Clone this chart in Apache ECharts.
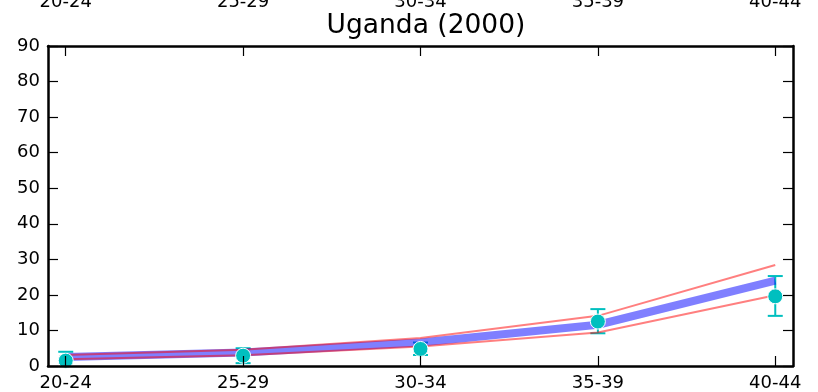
<!DOCTYPE html>
<html>
<head>
<meta charset="utf-8">
<script src="https://cdn.jsdelivr.net/npm/echarts@6/dist/echarts.min.js"></script>
<style>
html,body{margin:0;padding:0;background:#fff;}
#chart{width:818px;height:392px;}
</style>
</head>
<body>
<div id="chart"></div>
<script>
// ---- data ----
var categories = ['20-24', '25-29', '30-34', '35-39', '40-44'];
var modelMean  = [2.5, 3.8, 6.6, 11.6, 24.0];
var modelUpper = [3.1, 4.6, 7.9, 14.1, 28.4];
var modelLower = [1.9, 3.0, 5.5, 9.4, 19.9];
var observed   = [1.5, 2.9, 4.8, 12.5, 19.6];
var obsLow     = [-1.0, 0.8, 3.1, 9.2, 14.1];
var obsHigh    = [4.0, 5.0, 6.6, 16.0, 25.3];
var yTicks     = [0, 10, 20, 30, 40, 50, 60, 70, 80, 90];
var titleText  = 'Uganda (2000)';

function pairs(arr) { return arr.map(function (v, i) { return [i, v]; }); }
var catIdx = categories.map(function (c, i) { return i; });

var FONT = 'DejaVu Sans';
var chart = echarts.init(document.getElementById('chart'), null, {renderer: 'canvas'});

var xCommon = {
  type: 'value', min: -0.1, max: 4.1, z: 10,
  splitLine: {show: false},
  axisLine: {show: true, onZero: false, lineStyle: {color: '#000', width: 2.5}},
  axisTick: {show: true, inside: true, length: 10, customValues: catIdx, lineStyle: {color: '#000', width: 1.2}},
  axisLabel: {show: true, customValues: catIdx, fontFamily: FONT, fontSize: 18, color: '#000',
    formatter: function (v) { return categories[Math.round(v)]; }}
};
var yCommon = {
  type: 'value', min: yTicks[0], max: yTicks[yTicks.length - 1], interval: 10, z: 10,
  splitLine: {show: false},
  axisLine: {show: true, onZero: false, lineStyle: {color: '#000', width: 2.5}},
  axisTick: {show: true, inside: true, length: 10, lineStyle: {color: '#000', width: 1.2}}
};

var option = {
  animation: false,
  backgroundColor: '#fff',
  title: {
    text: titleText, left: 421, top: 8, textAlign: 'center',
    textStyle: {fontFamily: FONT, fontSize: 26.5, fontWeight: 'normal', color: '#000'}
  },
  grid: {left: 48, right: 25, top: 46, bottom: 26, containLabel: false, outerBoundsMode: 'none'},
  xAxis: [
    Object.assign({}, xCommon, {position: 'bottom', axisLabel: Object.assign({}, xCommon.axisLabel, {margin: 8})}),
    Object.assign({}, xCommon, {position: 'top', axisLabel: Object.assign({}, xCommon.axisLabel, {margin: 35})})
  ],
  yAxis: [
    Object.assign({}, yCommon, {position: 'left', axisLabel: {show: true, margin: 8, fontFamily: FONT, fontSize: 18, color: '#000'}}),
    Object.assign({}, yCommon, {position: 'right', axisLabel: {show: false}})
  ],
  series: [
    {
      type: 'custom', name: 'obs error', xAxisIndex: 0, yAxisIndex: 0, z: 1, clip: true,
      data: catIdx.map(function (i) { return [i, obsLow[i], obsHigh[i]]; }),
      encode: {x: 0, y: [1, 2]},
      renderItem: function (params, api) {
        var x = api.value(0);
        var lo = api.coord([x, api.value(1)]);
        var hi = api.coord([x, api.value(2)]);
        var hw = 7.5;
        var st = {stroke: '#00bfbf', lineWidth: 2};
        return {
          type: 'group',
          children: [
            {type: 'line', shape: {x1: lo[0], y1: lo[1], x2: hi[0], y2: hi[1]}, style: st},
            {type: 'line', shape: {x1: hi[0] - hw, y1: hi[1], x2: hi[0] + hw, y2: hi[1]}, style: st},
            {type: 'line', shape: {x1: lo[0] - hw, y1: lo[1], x2: lo[0] + hw, y2: lo[1]}, style: st}
          ]
        };
      }
    },
    {
      type: 'line', name: 'mean', data: pairs(modelMean), z: 3, symbol: 'none',
      lineStyle: {color: 'rgba(0,0,255,0.5)', width: 8}
    },
    {
      type: 'line', name: 'upper', data: pairs(modelUpper), z: 4, symbol: 'none',
      lineStyle: {color: 'rgba(255,0,0,0.5)', width: 2}
    },
    {
      type: 'line', name: 'lower', data: pairs(modelLower), z: 4, symbol: 'none',
      lineStyle: {color: 'rgba(255,0,0,0.5)', width: 2}
    },
    {
      type: 'scatter', name: 'observed', data: pairs(observed), z: 5,
      symbol: 'circle', symbolSize: 15,
      itemStyle: {color: '#00bfbf', borderColor: '#fff', borderWidth: 1, opacity: 1}
    }
  ]
};
chart.setOption(option);
</script>
</body>
</html>
